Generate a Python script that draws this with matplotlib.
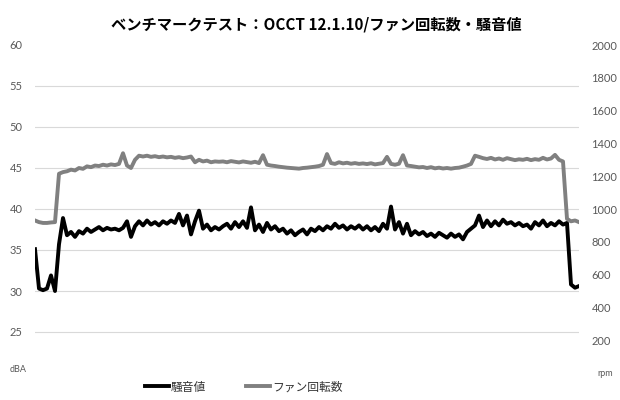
import matplotlib
matplotlib.use("Agg")
import matplotlib.pyplot as plt
from matplotlib.lines import Line2D

plt.rcParams['font.family'] = ['Noto Sans CJK JP', 'DejaVu Sans']

title = "ベンチマークテスト：OCCT 12.1.10/ファン回転数・騒音値"
series_names = ["騒音値", "ファン回転数"]
left_ticks = [25, 30, 35, 40, 45, 50, 55, 60]
right_ticks = [200, 400, 600, 800, 1000, 1200, 1400, 1600, 1800, 2000]
left_unit = "dBA"
right_unit = "rpm"

noise_dba = [
    35.1, 30.3, 30.1, 30.3, 31.9, 30.0, 35.7, 38.9, 36.8, 37.2,
    36.6, 37.3, 37.0, 37.6, 37.2, 37.5, 37.8, 37.4, 37.7, 37.5,
    37.6, 37.4, 37.7, 38.5, 36.6, 37.9, 38.5, 38.0, 38.6, 38.1,
    38.4, 38.0, 38.5, 38.2, 38.6, 38.3, 39.4, 38.0, 39.2, 36.9,
    38.5, 39.8, 37.6, 38.1, 37.4, 37.8, 37.5, 37.9, 38.2, 37.6,
    38.4, 37.8, 38.5, 37.7, 40.2, 37.4, 38.1, 37.2, 38.3, 37.5,
    37.9, 37.3, 37.6, 37.0, 37.4, 36.8, 37.2, 37.5, 36.9, 37.6,
    37.3, 37.8, 37.4, 37.9, 37.6, 38.2, 37.7, 38.0, 37.5, 37.9,
    37.6, 38.0, 37.5, 37.9, 37.4, 37.8, 37.3, 38.2, 37.6, 40.3,
    37.5, 38.4, 37.0, 38.2, 36.8, 37.3, 36.9, 37.2, 36.7, 37.0,
    36.6, 37.1, 36.8, 36.5, 37.0, 36.6, 36.9, 36.3, 37.2, 37.6,
    38.0, 39.2, 37.8, 38.6, 37.9, 38.5, 38.0, 38.7, 38.2, 38.4,
    38.0, 38.3, 37.9, 38.1, 37.6, 38.4, 38.0, 38.6, 37.9, 38.3,
    38.0, 38.5, 38.1, 38.3, 30.8, 30.4, 30.6,
]

fan_rpm = [
    930, 920, 915, 915, 918, 920, 1215, 1225, 1230, 1240,
    1235, 1250, 1245, 1260, 1255, 1265, 1262, 1270, 1265, 1272,
    1268, 1275, 1340, 1265, 1250, 1300, 1325, 1320, 1325, 1318,
    1322, 1316, 1320, 1315, 1318, 1312, 1316, 1310, 1314, 1320,
    1285, 1300, 1290, 1295, 1285, 1290, 1288, 1290, 1285, 1292,
    1288, 1284, 1290, 1286, 1282, 1288, 1280, 1328, 1270, 1265,
    1262, 1258, 1255, 1252, 1250, 1248, 1246, 1250, 1252, 1255,
    1258, 1262, 1270, 1335, 1280, 1275, 1285, 1278, 1282, 1276,
    1280, 1275, 1278, 1274, 1279, 1272, 1276, 1280, 1318, 1275,
    1270, 1276, 1328, 1265, 1262, 1258, 1254, 1256, 1250, 1255,
    1248, 1252, 1247, 1250, 1246, 1250, 1252, 1258, 1265, 1275,
    1325, 1318, 1310, 1305, 1312, 1302, 1308, 1300, 1310, 1304,
    1298, 1303, 1300, 1306, 1298, 1304, 1300, 1312, 1302, 1308,
    1330, 1300, 1290, 940, 925, 930, 920,
]

W, H = 620, 400
fig = plt.figure(figsize=(W / 100, H / 100), dpi=100)
ax = fig.add_axes([35 / W, 1 - 373 / H, (579 - 35) / W, (373 - 45) / H])
ax2 = ax.twinx()

x = list(range(len(noise_dba)))
ax.plot(x, noise_dba, color='black', lw=2.8, solid_joinstyle='round', zorder=3)
ax2.plot(x, fan_rpm, color='#808080', lw=2.8, solid_joinstyle='round', zorder=3)

ax.set_xlim(0, len(x) - 1)
ax.set_ylim(20, 60)
ax2.set_ylim(0, 2000)
ax.set_xticks([])

tick_color = '#595959'
ax.set_yticks(left_ticks)
ax.set_yticklabels([str(v) for v in left_ticks])
ax.tick_params(axis='y', length=0, pad=9, labelsize=8, labelcolor=tick_color)
ax2.set_yticks(right_ticks)
ax2.set_yticklabels([str(v) for v in right_ticks])
ax2.tick_params(axis='y', length=0, pad=9, labelsize=8, labelcolor=tick_color)
for a in (ax, ax2):
    for lab in a.get_yticklabels():
        lab.set_family(['Lato', 'DejaVu Sans'])
    for s in a.spines.values():
        s.set_visible(False)

ax.grid(axis='y', color='#d9d9d9', lw=0.8)
ax.get_ygridlines()[-1].set_visible(False)
ax.set_axisbelow(True)

fig.text(10 / W, 1 - 370 / H, left_unit, fontsize=6.5, color=tick_color,
         family=['Lato', 'DejaVu Sans'], ha='left', va='center')
fig.text(613 / W, 1 - 373 / H, right_unit, fontsize=6.5, color=tick_color,
         family=['Lato', 'DejaVu Sans'], ha='right', va='center')

fig.text(316 / W, 1 - 25 / H, title, fontsize=11, fontweight='bold',
         ha='center', va='center', color='black')

handles = [Line2D([], [], color='black', lw=2.8),
           Line2D([], [], color='#808080', lw=2.8)]
fig.legend(handles, series_names, loc='center', bbox_to_anchor=(244 / W, 1 - 387 / H),
           ncol=2, frameon=False, fontsize=8.5, handlelength=2.0,
           handletextpad=0.2, columnspacing=3.4, labelcolor='#333333')

fig.savefig('out.png', dpi=100)
